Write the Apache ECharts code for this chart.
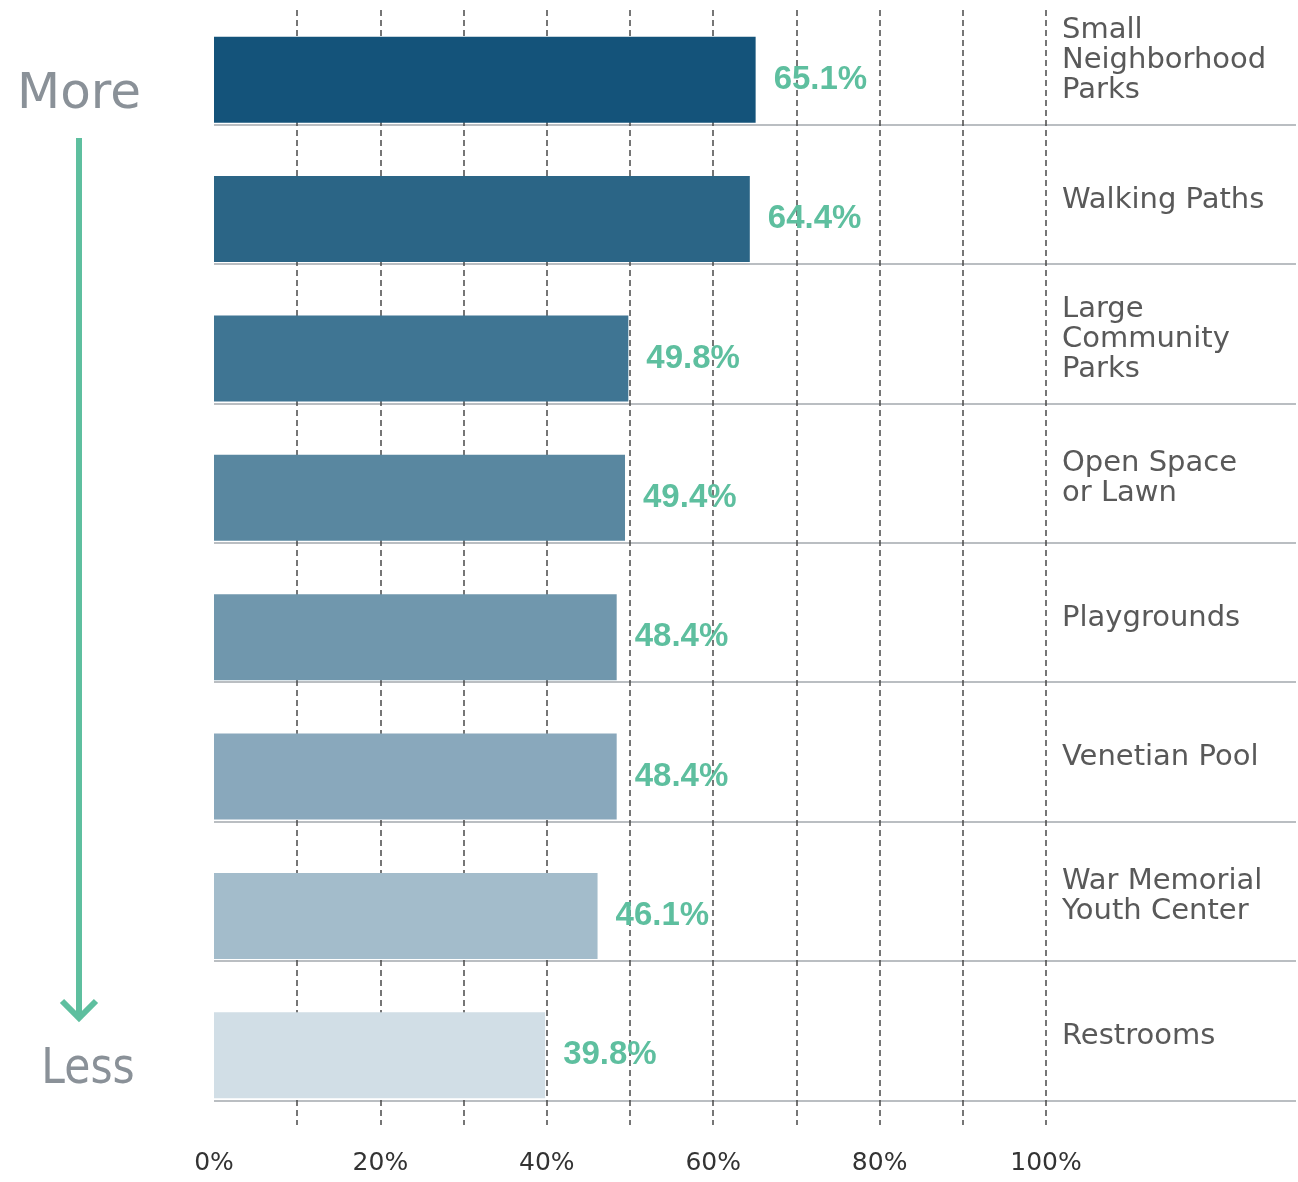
<!DOCTYPE html>
<html>
<head>
<meta charset="utf-8">
<title>Park amenities</title>
<script src="https://cdn.jsdelivr.net/npm/echarts@6/dist/echarts.min.js"></script>
<style>
  html, body { margin: 0; padding: 0; background: #ffffff; }
  #chart { width: 1298px; height: 1182px; }
</style>
</head>
<body>
<div id="chart"></div>
<script>
// Amenities, ranked from most to least wanted
const categories = [
  'Small\nNeighborhood\nParks',
  'Walking Paths',
  'Large\nCommunity\nParks',
  'Open Space\nor Lawn',
  'Playgrounds',
  'Venetian Pool',
  'War Memorial\nYouth Center',
  'Restrooms'
];

// Share of respondents (%)
const shares = [65.1, 64.4, 49.8, 49.4, 48.4, 48.4, 46.1, 39.8];

// Labelled ticks on the percentage axis
const tickLabels = [0, 20, 40, 60, 80, 100];

// Blue ramp, darkest for the top amenity
const barColors = ['#14537a', '#2b6586', '#3f7593', '#5987a0', '#7097ad', '#89a8bc', '#a3bccb', '#d1dee6'];

const TEAL = '#5ebf9f';
const GREY_TEXT = '#8a9198';

// Row geometry: 8 rows, each ROW px tall, starting at TOP
const TOP = 10;
const ROW = 139.375;

const chart = echarts.init(document.getElementById('chart'), null, { renderer: 'canvas' });

// hidden helper axes for the separator and name grids
const hiddenX = idx => ({ gridIndex: idx, type: 'value', min: 0, max: 100, show: false });

chart.setOption({
  animation: false,
  backgroundColor: '#ffffff',
  grid: [
    // bars
    { left: 214, width: 832, top: TOP, height: ROW * 8 },
    // row separators: one rule under each bar
    { left: 214, right: 2, top: TOP + ROW - 24.7, height: ROW * 7 },
    // amenity names, sitting a little above the bar centres
    { left: 214, width: 832, top: TOP + ROW / 2 - 19, height: ROW * 7 }
  ],
  xAxis: [
    {
      gridIndex: 0,
      type: 'value',
      min: 0,
      max: 100,
      interval: 10,
      axisLine: { show: false },
      axisTick: { show: false },
      splitLine: {
        show: true,
        showMinLine: false,
        lineStyle: { type: [6, 4], color: '#4a4a4a', width: 1.5 }
      },
      axisLabel: {
        margin: 26,
        fontSize: 25,
        color: '#333333',
        fontFamily: 'DejaVu Sans',
        formatter: v => (tickLabels.indexOf(v) >= 0 ? v + '%' : '')
      }
    },
    hiddenX(1),
    hiddenX(2)
  ],
  yAxis: [
    {
      gridIndex: 0,
      type: 'category',
      data: categories,
      inverse: true,
      axisLine: { show: false },
      axisTick: { show: false },
      axisLabel: { show: false },
      splitLine: { show: false }
    },
    {
      gridIndex: 1,
      type: 'category',
      data: categories,
      inverse: true,
      boundaryGap: false,
      axisLine: { show: false },
      axisTick: { show: false },
      axisLabel: { show: false },
      splitLine: {
        show: true,
        interval: 0,
        lineStyle: { color: '#a3a9ae', width: 1.5 }
      }
    },
    {
      gridIndex: 2,
      type: 'category',
      data: categories,
      inverse: true,
      boundaryGap: false,
      position: 'right',
      axisLine: { show: false },
      axisTick: { show: false },
      splitLine: { show: false },
      axisLabel: {
        interval: 0,
        align: 'left',
        margin: 16,
        fontSize: 29,
        lineHeight: 30,
        color: '#595959',
        fontFamily: 'DejaVu Sans'
      }
    }
  ],
  series: [
    {
      type: 'bar',
      xAxisIndex: 0,
      yAxisIndex: 0,
      data: shares,
      barWidth: 86,
      silent: true,
      itemStyle: {
        color: p => barColors[p.dataIndex]
      },
      label: {
        show: true,
        position: 'right',
        distance: 18,
        formatter: '{c}%',
        fontSize: 33,
        fontWeight: 'bold',
        fontFamily: 'Liberation Sans',
        color: TEAL
      }
    }
  ],
  graphic: [
    {
      type: 'text',
      x: 79,
      y: 95,
      style: {
        text: 'More',
        align: 'center',
        verticalAlign: 'middle',
        fontSize: 50,
        fontFamily: 'DejaVu Sans',
        fill: GREY_TEXT
      }
    },
    {
      type: 'line',
      shape: { x1: 79, y1: 138, x2: 79, y2: 1018 },
      style: { stroke: TEAL, lineWidth: 6 }
    },
    {
      type: 'polyline',
      shape: { points: [[62, 1001], [79, 1018], [96, 1001]] },
      style: { stroke: TEAL, lineWidth: 6, fill: null }
    },
    {
      type: 'text',
      x: 88,
      y: 1070,
      scaleX: 0.85,
      style: {
        text: 'Less',
        align: 'center',
        verticalAlign: 'middle',
        fontSize: 50,
        fontFamily: 'DejaVu Sans',
        fill: GREY_TEXT
      }
    }
  ]
});
</script>
</body>
</html>
